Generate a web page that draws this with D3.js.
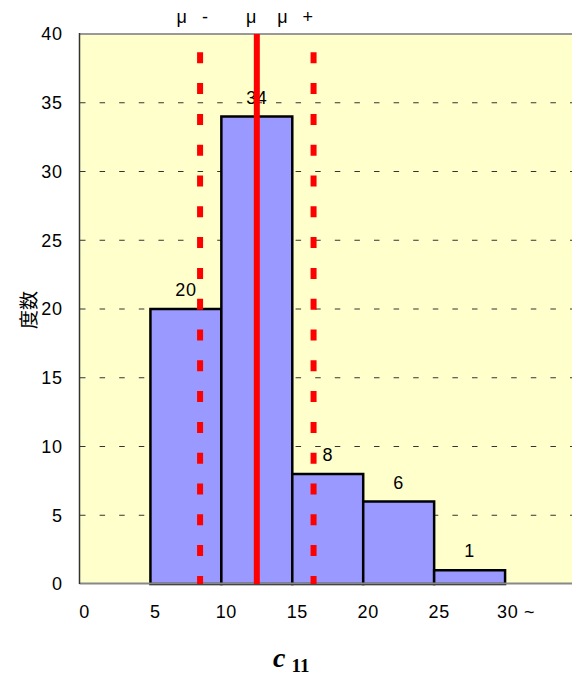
<!DOCTYPE html>
<html><head><meta charset="utf-8">
<script src="https://cdn.jsdelivr.net/npm/d3@7"></script>
<style>
html,body{margin:0;padding:0;background:#fff;}
svg{display:block;}
</style></head>
<body>
<svg id="chart" width="572" height="675"></svg>
<script>
// ---- data ----
const binStarts = [5, 10, 15, 20, 25];
const binEnds = [10, 15, 20, 25, 30];
const counts = [20, 34, 8, 6, 1];
const xTickValues = [0, 5, 10, 15, 20, 25, 30];
const xTickLabels = ["0", "5", "10", "15", "20", "25", "30 ~"];
const yTickValues = [0, 5, 10, 15, 20, 25, 30, 35, 40];
const gridValues = [5, 10, 15, 20, 25, 30, 35];
const markerValues = [8.5, 12.5, 16.5];
const markerLabels = ["μ   -", "μ", "μ   +"];
const yTitle = "度数";

(function () {
// ---- layout ----
const svg = d3.select("#chart");
const pL = 79.5, pR = 576, pT = 34, pB = 584;
const x = d3.scaleLinear().domain([0, 35]).range([pL, pR]);
const y = d3.scaleLinear().domain([0, 40]).range([pB, pT]);
const numFont = "'Liberation Sans', Arial, sans-serif";
const fs = "18px";

// plot background
svg.append("rect").attr("x", pL).attr("y", pT)
  .attr("width", pR - pL).attr("height", pB - pT)
  .attr("fill", "#FFFFCC");

// gridlines
svg.append("g").selectAll("line").data(gridValues).join("line")
  .attr("x1", pL + 0.5).attr("x2", pR)
  .attr("y1", d => y(d)).attr("y2", d => y(d))
  .attr("stroke", "#333").attr("stroke-width", 1)
  .attr("stroke-dasharray", "5.5,14.1");

// bars
svg.append("g").selectAll("rect").data(counts).join("rect")
  .attr("x", (d, i) => x(binStarts[i]))
  .attr("y", d => y(d))
  .attr("width", (d, i) => x(binEnds[i]) - x(binStarts[i]))
  .attr("height", d => y(0) - y(d))
  .attr("fill", "#9999FF").attr("stroke", "#000").attr("stroke-width", 2.5);

// bar value labels
svg.append("g").selectAll("text").data(counts).join("text")
  .attr("x", (d, i) => (x(binStarts[i]) + x(binEnds[i])) / 2)
  .attr("y", d => y(d) - 13)
  .attr("text-anchor", "middle")
  .style("font-family", numFont).style("font-size", fs)
  .style("letter-spacing", "0.6px")
  .text(d => d);

// frame lines
svg.append("line").attr("x1", pL).attr("x2", 572).attr("y1", pT).attr("y2", pT)
  .attr("stroke", "#999").attr("stroke-width", 2);
svg.append("line").attr("x1", pL).attr("x2", 572).attr("y1", pB - 0.5).attr("y2", pB - 0.5)
  .attr("stroke", "#888").attr("stroke-width", 2);
svg.append("line").attr("x1", pL).attr("x2", pL).attr("y1", pT - 1).attr("y2", pB)
  .attr("stroke", "#333").attr("stroke-width", 1.5);

// marker lines (mean solid, +/- dashed)
svg.append("g").selectAll("line").data(markerValues).join("line")
  .attr("x1", d => x(d)).attr("x2", d => x(d))
  .attr("y1", pT).attr("y2", pB)
  .attr("stroke", "#FF0000").attr("stroke-width", 6)
  .attr("stroke-dasharray", (d, i) => i === 1 ? null : "11,19.8")
  .attr("stroke-dashoffset", (d, i) => i === 1 ? null : 12.5);

// marker labels
const markerDx = [-23.5, -10.7, -36.3];
svg.append("g").selectAll("text").data(markerLabels).join("text")
  .attr("x", (d, i) => x(markerValues[i]) + markerDx[i])
  .attr("y", 23)
  .attr("text-anchor", "start")
  .style("white-space", "pre")
  .style("font-family", numFont).style("font-size", fs)
  .text(d => d);

// y axis labels
const yAxis = d3.axisLeft(y).tickValues(yTickValues).tickSize(0).tickPadding(17);
const gy = svg.append("g").attr("transform", `translate(${pL},0)`).call(yAxis);
gy.select(".domain").remove();
gy.selectAll("text")
  .style("font-family", numFont).style("font-size", fs)
  .style("letter-spacing", "0.6px")
  .attr("fill", "#000");

// x axis labels
svg.append("g").selectAll("text").data(xTickValues).join("text")
  .attr("x", (d, i) => i === xTickLabels.length - 1 ? x(d) - 8 : x(d) + 5)
  .attr("y", 618)
  .attr("text-anchor", (d, i) => i === xTickLabels.length - 1 ? "start" : "middle")
  .style("white-space", "pre")
  .style("font-family", numFont).style("font-size", fs)
  .style("letter-spacing", "0.6px")
  .text((d, i) => xTickLabels[i]);

// axis titles
const xt = svg.append("text").attr("x", 273).attr("y", 667)
  .style("font-family", "'Liberation Serif', 'Times New Roman', serif");
xt.append("tspan").text("c").style("font-style", "italic").style("font-weight", "bold")
  .style("font-size", "28px");
xt.append("tspan").text("11").attr("dx", 6).attr("dy", 5)
  .style("font-weight", "bold").style("font-size", "19px");

svg.append("text")
  .attr("transform", "translate(27,310) rotate(-90)")
  .attr("text-anchor", "middle").attr("dominant-baseline", "central")
  .style("font-family", "'Noto Sans CJK JP', sans-serif").style("font-size", "19px")
  .text(yTitle);
})();
</script>
</body></html>
